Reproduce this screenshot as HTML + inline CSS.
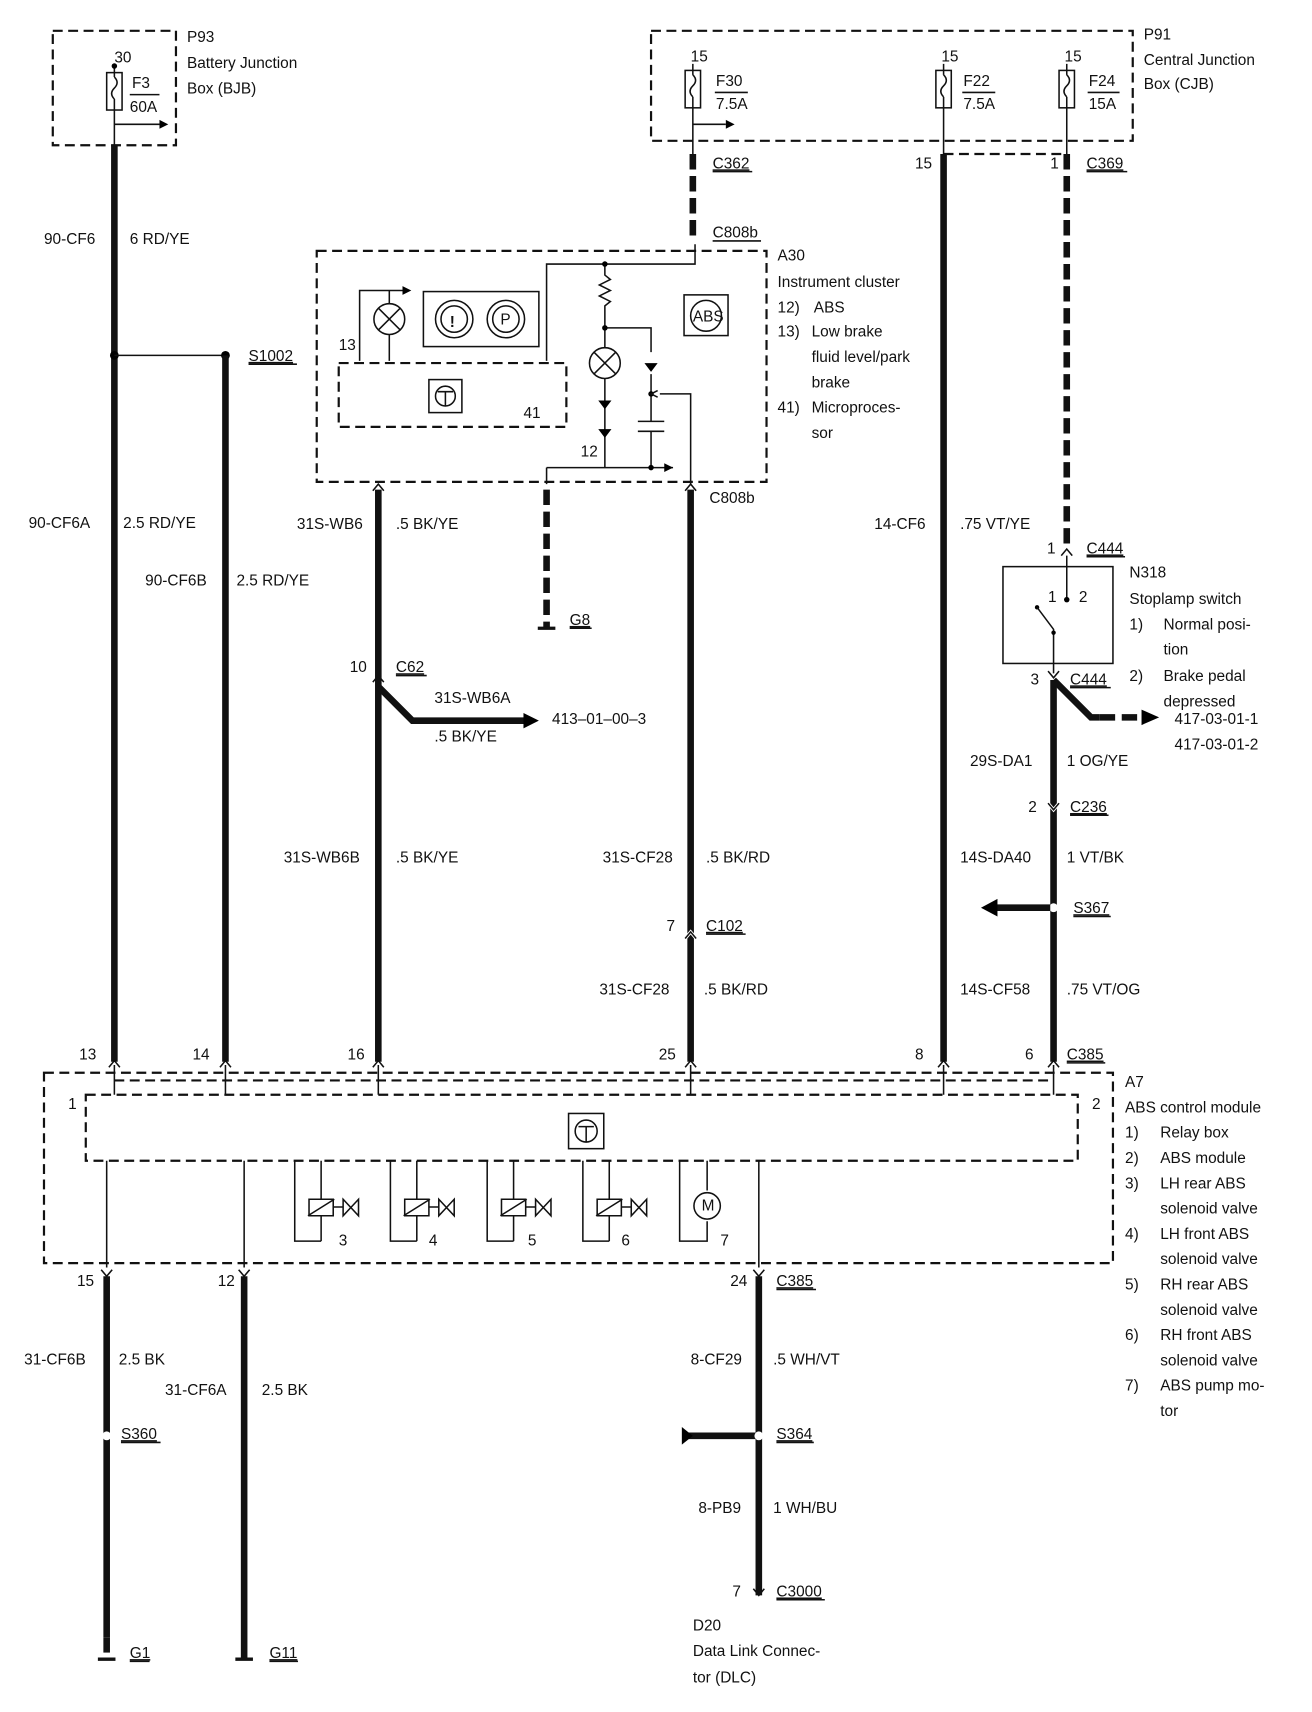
<!DOCTYPE html>
<html><head><meta charset="utf-8"><style>
html,body{margin:0;padding:0;background:#fff}
svg{display:block}
text{font-family:"Liberation Sans",sans-serif;font-size:14px;fill:#111}
.w{stroke:#111;stroke-width:6;fill:none}
.t{stroke:#111;stroke-width:1.4;fill:none}
.d{stroke:#111;stroke-width:2;fill:none;stroke-dasharray:9 5}
.wd{stroke:#111;stroke-width:6;fill:none;stroke-dasharray:14 6}
.u{text-decoration:underline}
</style></head><body>
<svg width="1312" height="1712" viewBox="0 0 1193 1556" preserveAspectRatio="none" xmlns="http://www.w3.org/2000/svg">
<defs>
<g id="fuse"><rect x="-7" y="0" width="14" height="34" class="t" fill="#fff"/><path d="M0,-6 V4 M0,4 q5,5 0,10 q-5,5 0,10 M0,24 V34" class="t"/></g>
</defs>
<!-- P93 -->
<rect x="48" y="28" width="112" height="104" class="d"/>
<use href="#fuse" x="104" y="66"/>
<circle cx="104" cy="60" r="2.5"/>
<text x="104" y="57" font-size="13">30</text>
<text x="120" y="80">F3</text><line x1="118" y1="86" x2="145" y2="86" class="t"/><text x="118" y="102">60A</text>
<path d="M104,100 V132 M104,113 H145" class="t"/><path d="M145,109 L153,113 L145,117Z"/>
<text x="170" y="38">P93</text><text x="170" y="62">Battery Junction</text><text x="170" y="85">Box (BJB)</text>
<line x1="104" y1="132" x2="104" y2="965" class="w"/>
<text x="40" y="222">90-CF6</text><text x="118" y="222">6 RD/YE</text>
<circle cx="104" cy="323" r="4"/><line x1="104" y1="323" x2="205" y2="323" class="t"/><circle cx="205" cy="323" r="4"/>
<text x="226" y="328" class="u">S1002</text><line x1="226" y1="331" x2="270" y2="331" class="t"/>
<line x1="205" y1="323" x2="205" y2="965" class="w"/>
<text x="26" y="480">90-CF6A</text><text x="112" y="480">2.5 RD/YE</text>
<text x="132" y="532">90-CF6B</text><text x="215" y="532">2.5 RD/YE</text>
<!-- P91 -->
<rect x="592" y="28" width="438" height="100" class="d"/>
<use href="#fuse" x="630" y="64"/><use href="#fuse" x="858" y="64"/><use href="#fuse" x="970" y="64"/>
<text x="628" y="56" font-size="13">15</text><text x="856" y="56" font-size="13">15</text><text x="968" y="56" font-size="13">15</text>
<text x="651" y="78">F30</text><text x="651" y="99">7.5A</text><line x1="650" y1="84" x2="680" y2="84" class="t"/>
<text x="876" y="78">F22</text><text x="876" y="99">7.5A</text><line x1="875" y1="84" x2="905" y2="84" class="t"/>
<text x="990" y="78">F24</text><text x="990" y="99">15A</text><line x1="989" y1="84" x2="1018" y2="84" class="t"/>
<path d="M630,98 V140 M630,113 H660 M858,98 V140 M970,98 V140" class="t"/><path d="M660,109 L668,113 L660,117Z"/>
<text x="1040" y="36">P91</text><text x="1040" y="59">Central Junction</text><text x="1040" y="81">Box (CJB)</text>
<line x1="630" y1="140" x2="630" y2="220" class="wd"/>
<text x="648" y="153" class="u">C362</text><line x1="648" y1="156" x2="684" y2="156" class="t"/>
<text x="648" y="216">C808b</text><line x1="648" y1="219" x2="692" y2="219" class="t"/>
<line x1="858" y1="140" x2="858" y2="965" class="w"/>
<line x1="858" y1="140" x2="970" y2="140" class="d" stroke-width="1.4"/>
<line x1="970" y1="140" x2="970" y2="495" class="wd"/>
<text x="832" y="153">15</text><text x="955" y="153">1</text><text x="988" y="153" class="u">C369</text><line x1="988" y1="156" x2="1025" y2="156" class="t"/>
<!-- A30 -->
<rect x="288" y="228" width="409" height="210" class="d"/>
<text x="707" y="237">A30</text><text x="707" y="261">Instrument cluster</text>
<text x="707" y="284">12)</text><text x="740" y="284">ABS</text>
<text x="707" y="306">13)</text><text x="738" y="306">Low brake</text>
<text x="738" y="329">fluid level/park</text><text x="738" y="352">brake</text>
<text x="707" y="375">41)</text><text x="738" y="375">Microproces-</text><text x="738" y="398">sor</text>
<circle cx="354" cy="290" r="14" class="t"/><path d="M344,280 L364,300 M364,280 L344,300" class="t"/>
<path d="M327,328 V264 H370 M354,276 V264 M354,304 V328" class="t"/><path d="M366,260 L374,264 L366,268Z"/>
<text x="308" y="318">13</text>
<rect x="385" y="265" width="105" height="50" class="t"/>
<circle cx="413" cy="290" r="17" class="t"/><circle cx="413" cy="290" r="12" class="t"/><text x="409" y="297" font-weight="bold">!</text>
<circle cx="460" cy="290" r="17" class="t"/><circle cx="460" cy="290" r="12" class="t"/><text x="455" y="295" font-size="11">P</text>
<rect x="308" y="330" width="207" height="58" class="d" stroke-width="1.4"/>
<rect x="390" y="345" width="30" height="30" class="t"/><circle cx="405" cy="360" r="9" class="t"/><path d="M398,356 H412 M405,356 V369" class="t"/>
<text x="476" y="380">41</text>
<rect x="622" y="268" width="40" height="37" class="t"/><circle cx="642" cy="287" r="14" class="t"/><text x="630" y="292" font-size="11">ABS</text>
<path d="M632,222 V240 H497 V328 M550,240 V250 l5,4 l-10,5 l10,5 l-10,5 l10,5 l-5,4 V298 M550,298 H592 V320 M550,298 V316 M550,344 V425 M497,425 H612 M497,425 V440 M600,358 H628 V440 M592,340 V383 M580,383 H604 M580,392 H604 M592,392 V425" class="t"/>
<circle cx="550" cy="240" r="2.5"/><circle cx="550" cy="298" r="2.5"/><circle cx="592" cy="358" r="2.5"/><circle cx="592" cy="425" r="2.5"/>
<circle cx="550" cy="330" r="14" class="t"/><path d="M540,320 L560,340 M560,320 L540,340" class="t"/>
<path d="M544,364 H556 L550,372Z M544,372 H556 M544,390 H556 L550,398Z M544,398 H556"/>
<path d="M586,330 H598 L592,338Z M586,338 H598"/><path d="M598,355 L592,358 L598,361" class="t"/>
<path d="M604,421 L612,425 L604,429Z"/>
<text x="528" y="415">12</text>
<line x1="497" y1="445" x2="497" y2="570" class="wd"/><path d="M489,571 H505" stroke="#111" stroke-width="3"/>
<text x="518" y="568" class="u">G8</text><line x1="518" y1="571" x2="538" y2="571" class="t"/>
<text x="645" y="457">C808b</text>
<!-- WB6 -->
<line x1="344" y1="445" x2="344" y2="965" class="w"/>
<path d="M339,446 L344,440 L349,446 M623,446 L628,440 L633,446" class="t"/>
<text x="270" y="481">31S-WB6</text><text x="360" y="481">.5 BK/YE</text>
<text x="318" y="611">10</text><text x="360" y="611" class="u">C62</text><line x1="360" y1="614" x2="388" y2="614" class="t"/>
<path d="M339,620 L344,614 L349,620" class="t"/>
<path d="M344,624 L375,655 H478" class="w"/><path d="M476,648 L490,655 L476,662Z"/>
<text x="395" y="639">31S-WB6A</text><text x="395" y="674">.5 BK/YE</text><text x="502" y="658">413–01–00–3</text>
<text x="258" y="784">31S-WB6B</text><text x="360" y="784">.5 BK/YE</text>
<!-- CF28 -->
<line x1="628" y1="445" x2="628" y2="965" class="w"/>
<text x="548" y="784">31S-CF28</text><text x="642" y="784">.5 BK/RD</text>
<text x="606" y="846">7</text><text x="642" y="846" class="u">C102</text><line x1="642" y1="849" x2="678" y2="849" class="t"/>
<path d="M623,853 L628,847 L633,853" stroke="#fff" stroke-width="3" fill="none"/><path d="M623,853 L628,847 L633,853" class="t"/>
<text x="545" y="904">31S-CF28</text><text x="640" y="904">.5 BK/RD</text>
<text x="795" y="481">14-CF6</text><text x="873" y="481">.75 VT/YE</text>
<!-- stoplamp -->
<text x="952" y="503">1</text><text x="988" y="503" class="u">C444</text><line x1="988" y1="506" x2="1023" y2="506" class="t"/>
<path d="M965,505 L970,499 L975,505" class="t"/>
<line x1="970" y1="505" x2="970" y2="545" class="t"/><circle cx="970" cy="545" r="2.5"/>
<rect x="912" y="515" width="100" height="88" class="t"/>
<text x="953" y="547">1</text><text x="981" y="547">2</text>
<circle cx="943" cy="552" r="2"/><path d="M943,552 L958,572 V612" class="t"/><circle cx="958" cy="575" r="2"/>
<text x="1027" y="525">N318</text><text x="1027" y="549">Stoplamp switch</text>
<text x="1027" y="572">1)</text><text x="1058" y="572">Normal posi-</text><text x="1058" y="595">tion</text>
<text x="1027" y="619">2)</text><text x="1058" y="619">Brake pedal</text><text x="1058" y="642">depressed</text>
<text x="937" y="622">3</text><text x="973" y="622" class="u">C444</text><line x1="973" y1="625" x2="1010" y2="625" class="t"/>
<path d="M953,610 L958,616 L963,610" class="t"/>
<line x1="958" y1="618" x2="958" y2="965" class="w"/>
<path d="M958,618 L992,652 H1000" class="w"/><line x1="1000" y1="652" x2="1040" y2="652" class="wd"/><path d="M1038,645 L1054,652 L1038,659Z"/>
<text x="1068" y="658">417-03-01-1</text><text x="1068" y="681">417-03-01-2</text>
<text x="882" y="696">29S-DA1</text><text x="970" y="696">1 OG/YE</text>
<text x="935" y="738">2</text><text x="973" y="738" class="u">C236</text><line x1="973" y1="741" x2="1008" y2="741" class="t"/>
<path d="M953,730 L958,736 L963,730" stroke="#fff" stroke-width="3" fill="none"/><path d="M953,730 L958,736 L963,730" class="t"/>
<text x="873" y="784">14S-DA40</text><text x="970" y="784">1 VT/BK</text>
<circle cx="958" cy="825" r="4" fill="#fff"/><line x1="905" y1="825" x2="955" y2="825" class="w"/><path d="M907,817 L892,825 L907,833Z"/>
<text x="976" y="830" class="u">S367</text><line x1="976" y1="833" x2="1010" y2="833" class="t"/>
<text x="873" y="904">14S-CF58</text><text x="970" y="904">.75 VT/OG</text>
<!-- A7 module -->
<g class="t"><path d="M99,970 L104,964 L109,970 M200,970 L205,964 L210,970 M339,970 L344,964 L349,970 M623,970 L628,964 L633,970 M853,970 L858,964 L863,970 M953,970 L958,964 L963,970"/></g>
<text x="72" y="963">13</text><text x="175" y="963">14</text><text x="316" y="963">16</text><text x="599" y="963">25</text><text x="832" y="963">8</text><text x="932" y="963">6</text>
<text x="970" y="963" class="u">C385</text><line x1="970" y1="966" x2="1005" y2="966" class="t"/>
<rect x="40" y="975" width="972" height="173" class="d"/>
<rect x="78" y="995" width="902" height="60" class="d" stroke-width="1.4"/>
<path d="M104,968 V995 M205,968 V995 M344,968 V995 M628,968 V995 M858,968 V995 M958,968 V995 M97,1055 V1152 M222,1055 V1152 M690,1055 V1152" class="t"/>
<path d="M104,982 H958" class="d" stroke-width="1.2"/>
<text x="62" y="1008">1</text><text x="993" y="1008">2</text>
<rect x="517" y="1012" width="32" height="32" class="t"/><circle cx="533" cy="1028" r="10" class="t"/><path d="M526,1024 H540 M533,1024 V1038" class="t"/>
<g class="t">
<path d="M268,1055 V1128 H292 M292,1055 V1090 M292,1105 V1128 M281,1090 h22 v15 h-22z M280,1105 L304,1090 M303,1097 H312 M312,1090 L326,1105 V1090 L312,1105Z"/>
<path d="M355,1055 V1128 H379 M379,1055 V1090 M379,1105 V1128 M368,1090 h22 v15 h-22z M367,1105 L391,1090 M390,1097 H399 M399,1090 L413,1105 V1090 L399,1105Z"/>
<path d="M443,1055 V1128 H467 M467,1055 V1090 M467,1105 V1128 M456,1090 h22 v15 h-22z M455,1105 L479,1090 M478,1097 H487 M487,1090 L501,1105 V1090 L487,1105Z"/>
<path d="M530,1055 V1128 H554 M554,1055 V1090 M554,1105 V1128 M543,1090 h22 v15 h-22z M542,1105 L566,1090 M565,1097 H574 M574,1090 L588,1105 V1090 L574,1105Z"/>
<path d="M618,1055 V1128 H643 V1110 M643,1055 V1082"/><circle cx="643" cy="1096" r="12"/>
</g>
<text x="638" y="1100" font-size="9">M</text>
<text x="308" y="1132">3</text><text x="390" y="1132">4</text><text x="480" y="1132">5</text><text x="565" y="1132">6</text><text x="655" y="1132">7</text>
<text x="1023" y="988">A7</text><text x="1023" y="1011">ABS control module</text>
<g>
<text x="1023" y="1034">1)</text><text x="1055" y="1034">Relay box</text>
<text x="1023" y="1057">2)</text><text x="1055" y="1057">ABS module</text>
<text x="1023" y="1080">3)</text><text x="1055" y="1080">LH rear ABS</text><text x="1055" y="1103">solenoid valve</text>
<text x="1023" y="1126">4)</text><text x="1055" y="1126">LH front ABS</text><text x="1055" y="1149">solenoid valve</text>
<text x="1023" y="1172">5)</text><text x="1055" y="1172">RH rear ABS</text><text x="1055" y="1195">solenoid valve</text>
<text x="1023" y="1218">6)</text><text x="1055" y="1218">RH front ABS</text><text x="1055" y="1241">solenoid valve</text>
<text x="1023" y="1264">7)</text><text x="1055" y="1264">ABS pump mo-</text><text x="1055" y="1287">tor</text>
</g>
<!-- bottom wires -->
<g class="t"><path d="M92,1154 L97,1160 L102,1154 M217,1154 L222,1160 L227,1154 M685,1154 L690,1160 L695,1154 M685,1444 L690,1450 L695,1444"/></g>
<line x1="97" y1="1160" x2="97" y2="1488" class="w"/><line x1="97" y1="1488" x2="97" y2="1507" class="wd" stroke-dasharray="6 4"/>
<line x1="222" y1="1160" x2="222" y2="1507" class="w"/>
<path d="M89,1508 H105 M214,1508 H230" stroke="#111" stroke-width="3"/>
<text x="70" y="1169">15</text><text x="198" y="1169">12</text>
<text x="22" y="1240">31-CF6B</text><text x="108" y="1240">2.5 BK</text>
<text x="150" y="1268">31-CF6A</text><text x="238" y="1268">2.5 BK</text>
<circle cx="97" cy="1305" r="4" fill="#fff"/>
<text x="110" y="1308" class="u">S360</text><line x1="110" y1="1311" x2="146" y2="1311" class="t"/>
<text x="118" y="1507" class="u">G1</text><line x1="118" y1="1510" x2="136" y2="1510" class="t"/>
<text x="245" y="1507" class="u">G11</text><line x1="245" y1="1510" x2="271" y2="1510" class="t"/>
<line x1="690" y1="1160" x2="690" y2="1450" class="w"/>
<text x="664" y="1169">24</text><text x="706" y="1169" class="u">C385</text><line x1="706" y1="1172" x2="742" y2="1172" class="t"/>
<text x="628" y="1240">8-CF29</text><text x="703" y="1240">.5 WH/VT</text>
<line x1="624" y1="1305" x2="690" y2="1305" class="w"/><path d="M620,1297 L630,1305 L620,1313Z"/><circle cx="690" cy="1305" r="4" fill="#fff"/>
<text x="706" y="1308" class="u">S364</text><line x1="706" y1="1311" x2="740" y2="1311" class="t"/>
<text x="635" y="1375">8-PB9</text><text x="703" y="1375">1 WH/BU</text>
<text x="666" y="1451">7</text><text x="706" y="1451" class="u">C3000</text><line x1="706" y1="1454" x2="750" y2="1454" class="t"/>
<text x="630" y="1482">D20</text><text x="630" y="1505">Data Link Connec-</text><text x="630" y="1529">tor (DLC)</text>
</svg>
</body></html>
